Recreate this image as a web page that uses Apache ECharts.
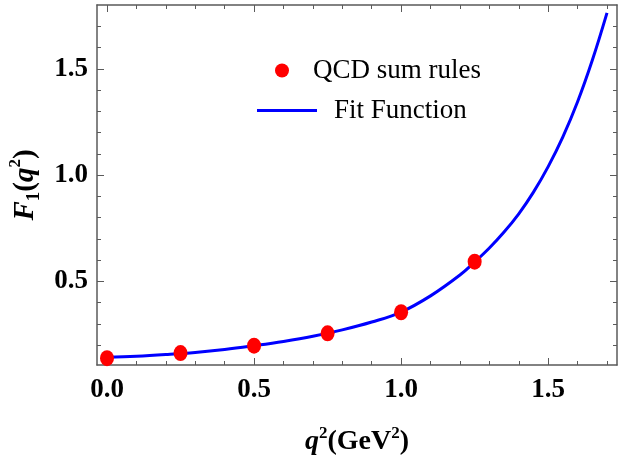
<!DOCTYPE html>
<html>
<head>
<meta charset="utf-8">
<script src="https://cdn.jsdelivr.net/npm/echarts@6/dist/echarts.min.js"></script>
<style>html,body{margin:0;padding:0;background:#fff}#c{width:633px;height:456px}</style>
</head>
<body>
<div id="c"></div>
<script>
// QCD sum rules points
const sumRuleQ2 = [0, 0.25, 0.5, 0.75, 1.0, 1.25];
const sumRuleF1 = [0.139, 0.163, 0.198, 0.256, 0.355, 0.593];
// Fit function
const fitQ2 = [0, 0.1, 0.2, 0.3, 0.4, 0.5, 0.6, 0.7, 0.8, 0.9, 1.0, 1.1, 1.2, 1.25, 1.3, 1.35, 1.4, 1.45, 1.5, 1.55, 1.6, 1.65, 1.7];
const fitF1 = [0.143, 0.148, 0.156, 0.166, 0.180, 0.198, 0.218, 0.242, 0.272, 0.309, 0.356, 0.432, 0.530, 0.591, 0.657, 0.732, 0.818, 0.920, 1.040, 1.180, 1.345, 1.540, 1.763];
// ticks
const xMajorTicks = [0, 0.5, 1.0, 1.5];
const xMinorTicks = [0.1, 0.2, 0.3, 0.4, 0.6, 0.7, 0.8, 0.9, 1.1, 1.2, 1.3, 1.4, 1.6, 1.7];
const yMajorTicks = [0.5, 1.0, 1.5];
const yMinorTicks = [0.2, 0.3, 0.4, 0.6, 0.7, 0.8, 0.9, 1.1, 1.2, 1.3, 1.4, 1.6, 1.7];
const xRange = [-0.034, 1.734];
const yRange = [0.107, 1.80];

const FONT = 'Liberation Serif';
const frame = '#5a5a5a';

function mkAxis(type, pos, major, ticks, labels, name) {
  const a = {
    type: 'value', position: pos,
    min: type === 'x' ? xRange[0] : yRange[0],
    max: type === 'x' ? xRange[1] : yRange[1],
    splitLine: {show: false},
    axisLine: {show: major, onZero: false, lineStyle: {color: frame, width: 1.5}},
    axisTick: {show: true, inside: true, length: major ? 7 : 4, customValues: ticks, lineStyle: {color: frame, width: 1}},
    axisLabel: labels ? {
      show: true, customValues: ticks, color: '#000', fontFamily: FONT, fontWeight: 'bold', fontSize: 27,
      margin: type === 'x' ? 12 : 9,
      formatter: v => v.toFixed(1)
    } : {show: false}
  };
  if (name) Object.assign(a, name);
  return a;
}

const chart = echarts.init(document.getElementById('c'));
chart.setOption({
  animation: false,
  grid: {left: 97, right: 16, top: 5, bottom: 91, containLabel: false, outerBoundsMode: 'none'},
  legend: [
    {data: [{name: 'QCD sum rules', icon: 'circle'}], left: 270, top: 52, orient: 'vertical', itemWidth: 14, itemHeight: 15,
     textStyle: {fontFamily: FONT, fontSize: 27, color: '#000', padding: [0, 0, 0, 19]}},
    {data: [{name: 'Fit Function', icon: 'rect'}], left: 252, top: 92, orient: 'vertical', itemWidth: 60, itemHeight: 3,
     itemStyle: {color: '#0000ff'},
     textStyle: {fontFamily: FONT, fontSize: 27, color: '#000', padding: [0, 0, 0, 12]}}
  ],
  xAxis: [
    mkAxis('x', 'bottom', true, xMajorTicks, true, {
      name: '{q|q}{s|2}{p|(GeV}{s|2}{p|)}', nameLocation: 'middle', nameGap: 60,
      nameTextStyle: {rich: {
        q: {fontFamily: FONT, fontSize: 28, fontWeight: 'bold', fontStyle: 'italic', lineHeight: 34, color: '#000'},
        p: {fontFamily: FONT, fontSize: 28, fontWeight: 'bold', lineHeight: 34, color: '#000'},
        s: {fontFamily: FONT, fontSize: 17, fontWeight: 'bold', lineHeight: 17, verticalAlign: 'top', color: '#000'}
      }}
    }),
    mkAxis('x', 'bottom', false, xMinorTicks, false),
    mkAxis('x', 'top', true, xMajorTicks, false),
    mkAxis('x', 'top', false, xMinorTicks, false)
  ],
  yAxis: [
    mkAxis('y', 'left', true, yMajorTicks, true, {
      name: '{f|F}{b|1}{p|(}{q|q}{s|2}{p|)}', nameLocation: 'middle', nameGap: 49, nameRotate: 90,
      nameTextStyle: {rich: {
        f: {fontFamily: FONT, fontSize: 29, fontWeight: 'bold', fontStyle: 'italic', lineHeight: 36, color: '#000'},
        q: {fontFamily: FONT, fontSize: 29, fontWeight: 'bold', fontStyle: 'italic', lineHeight: 36, color: '#000'},
        p: {fontFamily: FONT, fontSize: 29, fontWeight: 'bold', lineHeight: 36, color: '#000'},
        b: {fontFamily: FONT, fontSize: 19, fontWeight: 'bold', lineHeight: 19, verticalAlign: 'bottom', color: '#000'},
        s: {fontFamily: FONT, fontSize: 17, fontWeight: 'bold', lineHeight: 17, verticalAlign: 'top', color: '#000'}
      }}
    }),
    mkAxis('y', 'left', false, yMinorTicks, false),
    mkAxis('y', 'right', true, yMajorTicks, false),
    mkAxis('y', 'right', false, yMinorTicks, false)
  ],
  series: [
    {
      name: 'Fit Function', type: 'line', xAxisIndex: 0, yAxisIndex: 0,
      data: fitQ2.map((x, i) => [x, fitF1[i]]),
      smooth: 0.4, symbol: 'none', z: 2,
      lineStyle: {color: '#0000ff', width: 3}, itemStyle: {color: '#0000ff'}
    },
    {
      name: 'QCD sum rules', type: 'scatter', xAxisIndex: 0, yAxisIndex: 0,
      data: sumRuleQ2.map((x, i) => [x, sumRuleF1[i]]),
      symbol: 'circle', symbolSize: [14, 16], z: 3,
      itemStyle: {color: '#ff0000', opacity: 1}
    }
  ]
});
</script>
</body>
</html>
